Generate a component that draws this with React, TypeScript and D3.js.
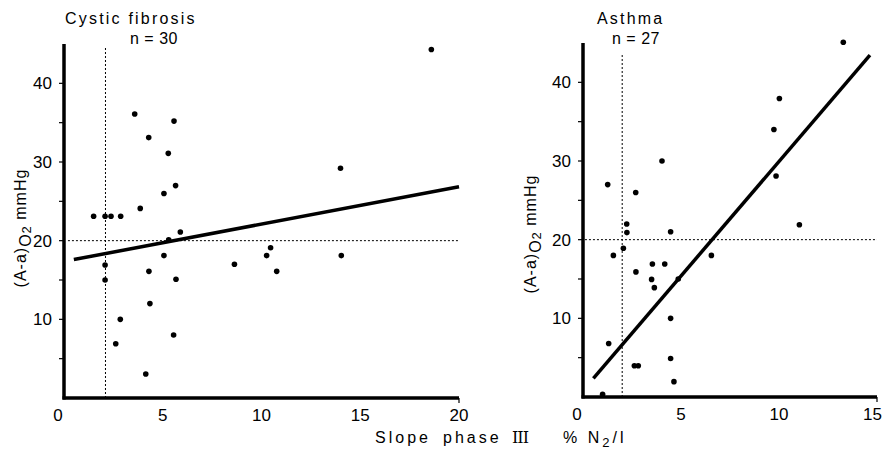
import React from "react";
import * as d3 from "d3";

// Cystic fibrosis data: slope phase III (% N2/l) vs (A-a)O2 mmHg
const cfX = [18.6, 3.58, 5.57, 4.29, 5.28, 14.0, 5.65, 5.06, 3.86, 1.5, 2.08, 2.38, 2.87,
  5.89, 5.3, 5.06, 2.08, 2.08, 4.3, 5.67, 4.35, 2.85, 2.62, 5.55, 4.14, 8.63, 10.26, 10.46, 10.77, 14.04];
const cfY = [44.3, 36.1, 35.2, 33.1, 31.1, 29.2, 27.0, 26.0, 24.1, 23.1, 23.1, 23.1, 23.1,
  21.1, 20.1, 18.1, 16.9, 15.0, 16.1, 15.1, 12.0, 10.0, 6.9, 8.0, 3.05, 17.0, 18.1, 19.1, 16.1, 18.1];
const cfLine = [[0.5, 17.6], [20, 26.85]];

// Asthma data
const asX = [13.28, 10.02, 9.74, 9.85, 4.03, 1.26, 2.69, 2.23, 11.04,
  2.24, 2.06, 1.55, 4.47, 6.55, 2.7, 3.54, 4.17, 3.5, 3.64, 4.86, 4.47, 1.31, 4.47, 2.62, 2.82, 4.64, 1.0];
const asY = [45.1, 37.95, 34.0, 28.1, 30.0, 27.0, 26.0, 22.0, 21.9,
  20.9, 18.9, 18.0, 21.0, 18.0, 15.9, 16.9, 16.9, 14.95, 13.9, 15.0, 10.0, 6.8, 4.9, 3.98, 3.98, 1.95, 0.35];
const asLine = [[0.53, 2.37], [14.64, 43.45]];

const yTicksMajor = [10, 20, 30, 40];
const yTicksMinor = [5, 15, 25, 35];
const cfXTicks = [0, 5, 10, 15, 20];
const asXTicks = [0, 5, 10, 15];

const FONT = "Liberation Sans, Arial, sans-serif";

function Panel(props: {
  xs: number[]; ys: number[]; line: number[][]; xMax: number; xr: [number, number]; yr: [number, number];
  xTicks: number[]; vRef: number; vTop: number; hFrom: number; title: string; n: string;
  titleX: number; nX: number; yLabelX: number; yLabelY: number; lastTickEnd?: boolean;
}) {
  const x = d3.scaleLinear().domain([0, props.xMax]).range(props.xr);
  const y = d3.scaleLinear().domain([0, 45]).range(props.yr);
  const lineGen = d3.line<number[]>().x((d) => x(d[0])).y((d) => y(d[1]));
  const x0 = x(0);
  const y0 = y(0);
  return (
    <g fontFamily={FONT} fill="#000">
      {/* reference dashed lines */}
      <line x1={x(props.vRef)} x2={x(props.vRef)} y1={y0} y2={y(props.vTop)} stroke="#000" strokeWidth={1} strokeDasharray="2,2" />
      <line x1={x(props.hFrom)} x2={x(props.xMax)} y1={y(20)} y2={y(20)} stroke="#000" strokeWidth={1} strokeDasharray="2,2" />
      {/* axes */}
      <line x1={x0} x2={x0} y1={y(45)} y2={y0 + 1.5} stroke="#000" strokeWidth={3.5} />
      <line x1={x0 - 1.5} x2={x(props.xMax)} y1={y0} y2={y0} stroke="#000" strokeWidth={3.5} />
      <line x1={x(props.xMax)} x2={x(props.xMax)} y1={y0} y2={y0 + 5} stroke="#000" strokeWidth={1.2} />
      {yTicksMajor.concat(yTicksMinor).map((t) => (
        <line key={"t" + t} x1={x0 - 5} x2={x0} y1={y(t)} y2={y(t)} stroke="#000" strokeWidth={1.2} />
      ))}
      {yTicksMajor.map((t) => (
        <text key={"l" + t} x={x0 - 12} y={y(t)} dy="0.36em" textAnchor="end" fontSize={17}>{t}</text>
      ))}
      {props.xTicks.map((t, i) => {
        const last = props.lastTickEnd && i === props.xTicks.length - 1;
        return (
          <text key={"x" + t} x={last ? 882 : x(t) + (t === 0 ? -6 : 0)} y={y0 + 23}
            textAnchor={last ? "end" : "middle"} fontSize={17}>{t}</text>
        );
      })}
      {/* regression line */}
      <path d={lineGen(props.line) || ""} stroke="#000" strokeWidth={3.5} fill="none" />
      {/* points */}
      {props.xs.map((v, i) => (
        <circle key={i} cx={x(v)} cy={y(props.ys[i])} r={2.8} fill="#000" />
      ))}
      {/* titles */}
      <text x={props.titleX} y={24} fontSize={16} letterSpacing={2.2}>{props.title}</text>
      <text x={props.nX} y={44} fontSize={16} letterSpacing={0.5}>{props.n}</text>
      {/* y label */}
      <text transform={`translate(${props.yLabelX},${props.yLabelY}) rotate(-90)`} textAnchor="middle" fontSize={16} letterSpacing={1}>
        (A-a)<tspan fontSize={16} dy="5">O</tspan><tspan fontSize={13} dy="0">2</tspan><tspan dy="-5">  mmHg</tspan>
      </text>
    </g>
  );
}

export default function App() {
  return (
    <svg width={883} height={449} style={{ position: "absolute", left: 0, top: 0, background: "#fff" }}>
      <rect width={883} height={449} fill="#fff" />
      <Panel xs={cfX} ys={cfY} line={cfLine} xMax={20} xr={[64, 459]} yr={[398, 44]} xTicks={cfXTicks}
        vRef={2.1} vTop={44.6} hFrom={0.2} title="Cystic fibrosis" n="n = 30" titleX={65} nX={130}
        yLabelX={26} yLabelY={228} />
      <Panel xs={asX} ys={asY} line={asLine} xMax={15} xr={[583, 877]} yr={[397, 43]} xTicks={asXTicks}
        vRef={2.0} vTop={43.7} hFrom={0.1} title="Asthma" n="n = 27" titleX={597} nX={612}
        yLabelX={536} yLabelY={234} lastTickEnd={true} />
      <g fontFamily={FONT} fontSize={16} letterSpacing={3}>
        <text x={375} y={443}>Slope</text>
        <text x={443} y={443}>phase</text>
        <text x={512} y={443} fontFamily="DejaVu Serif, serif" letterSpacing={-1}>III</text>
        <text x={563} y={443}>% N<tspan fontSize={13} dy="4">2</tspan><tspan dy="-4">/l</tspan></text>
      </g>
    </svg>
  );
}
